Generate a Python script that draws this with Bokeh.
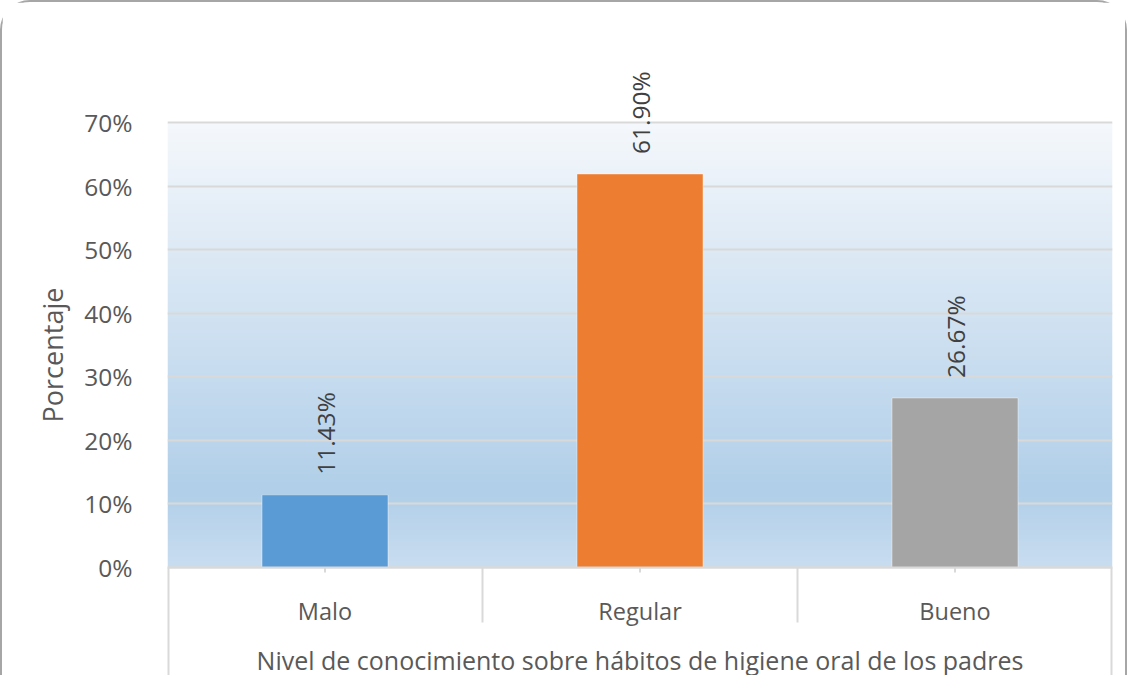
import numpy as np
from bokeh.plotting import figure
from bokeh.models import FixedTicker
from bokeh.core.properties import value
from bokeh.embed import file_html
from bokeh.resources import INLINE

# ---- data ----
categories = ["Malo", "Regular", "Bueno"]
percentages = [11.43, 61.90, 26.67]
bar_colors = ["#5B9BD5", "#ED7D31", "#A5A5A5"]
value_labels = ["11.43%", "61.90%", "26.67%"]
y_ticks = [0, 10, 20, 30, 40, 50, 60, 70]
y_tick_labels = ["0%", "10%", "20%", "30%", "40%", "50%", "60%", "70%"]
x_title = "Nivel de conocimiento sobre hábitos de higiene oral de los padres"
y_title = "Porcentaje"

FONT = "Open Sans"
Y_TOP = 70
PX = 445 / Y_TOP                 # pixels per percentage point
Y_VIEW_MAX = Y_TOP + 90 / PX     # room above for rotated value labels
Y_VIEW_MIN = -110 / PX           # room below for category table
centers = [i + 0.5 for i in range(len(categories))]

p = figure(width=1127, height=675, output_backend="svg", toolbar_location=None,
           x_range=(0, len(categories)), y_range=(Y_VIEW_MIN, Y_VIEW_MAX),
           x_axis_location=None, min_border_left=165, min_border_right=17,
           min_border_top=30, min_border_bottom=0,
           background_fill_color="white", border_fill_color="white",
           outline_line_color=None)
p.styles = {"border": "2px solid #A6A6A6", "border-bottom": "none",
            "border-radius": "30px 30px 0 0"}

# ---- gradient background of plot area ----
n = 200
t = np.linspace(0, 1, n)  # 0 bottom -> 1 top
stops_t = [0.0, 0.17, 1.0]
stops_c = [(0xC9, 0xDD, 0xF0), (0xB1, 0xCF, 0xE9), (0xF5, 0xF8, 0xFC)]
rgb = np.zeros((n, 3))
for k in range(3):
    rgb[:, k] = np.interp(t, stops_t, [c[k] for c in stops_c])
img = np.zeros((n, 1), dtype=np.uint32)
view = img.view(dtype=np.uint8).reshape((n, 1, 4))
view[:, 0, 0] = rgb[:, 0].astype(np.uint8)
view[:, 0, 1] = rgb[:, 1].astype(np.uint8)
view[:, 0, 2] = rgb[:, 2].astype(np.uint8)
view[:, 0, 3] = 255
p.image_rgba(image=[img], x=0, y=0, dw=len(categories), dh=Y_TOP, level="image")

# ---- grid ----
p.xgrid.visible = False
p.ygrid.ticker = FixedTicker(ticks=y_ticks)
p.ygrid.grid_line_color = "#D9D9D9"
p.ygrid.grid_line_width = 2

# ---- y axis ----
yax = p.yaxis[0]
yax.ticker = FixedTicker(ticks=y_ticks)
yax.major_label_overrides = {t_: l for t_, l in zip(y_ticks, y_tick_labels)}
yax.axis_line_color = None
yax.major_tick_line_color = None
yax.minor_tick_line_color = None
yax.major_label_standoff = 29
yax.major_label_text_font = FONT
yax.major_label_text_font_size = "24.5px"
yax.major_label_text_color = "#595959"
yax.axis_label = y_title
yax.axis_label_text_font = FONT
yax.axis_label_text_font_size = "27px"
yax.axis_label_text_font_style = "normal"
yax.axis_label_text_color = "#595959"
yax.axis_label_standoff = 10

# ---- bars ----
p.vbar(x=centers, top=percentages, width=0.4, fill_color=bar_colors,
       line_color="white", line_alpha=0.4, line_width=1)

# ---- value labels ----
p.text(x=centers, y=[v + 20 / PX for v in percentages], text=value_labels,
       angle=np.pi / 2, text_align="left", text_baseline="middle",
       text_font=value(FONT), text_font_size="24.5px", text_color="#404040")

# ---- category axis table ----
line_c = "#D9D9D9"
n_cat = len(categories)
p.segment(x0=[0], y0=[0], x1=[n_cat], y1=[0], line_color=line_c, line_width=2)
p.segment(x0=centers, y0=[0] * n_cat, x1=centers, y1=[-5 / PX] * n_cat,
          line_color=line_c, line_width=2)
inner = list(range(1, n_cat))
p.segment(x0=inner, y0=[0] * len(inner), x1=inner, y1=[-55 / PX] * len(inner),
          line_color=line_c, line_width=2)
p.segment(x0=[0, n_cat], y0=[0, 0], x1=[0, n_cat], y1=[Y_VIEW_MIN, Y_VIEW_MIN],
          line_color=line_c, line_width=4)
p.text(x=centers, y=[-43 / PX] * n_cat, text=categories,
       text_align="center", text_baseline="middle",
       text_font=value(FONT), text_font_size="23.5px", text_color="#595959")
p.text(x=[n_cat / 2], y=[-92 / PX], text=[x_title],
       text_align="center", text_baseline="middle",
       text_font=value(FONT), text_font_size="25px", text_color="#595959")

open("out.html", "w").write(file_html(p, INLINE))
